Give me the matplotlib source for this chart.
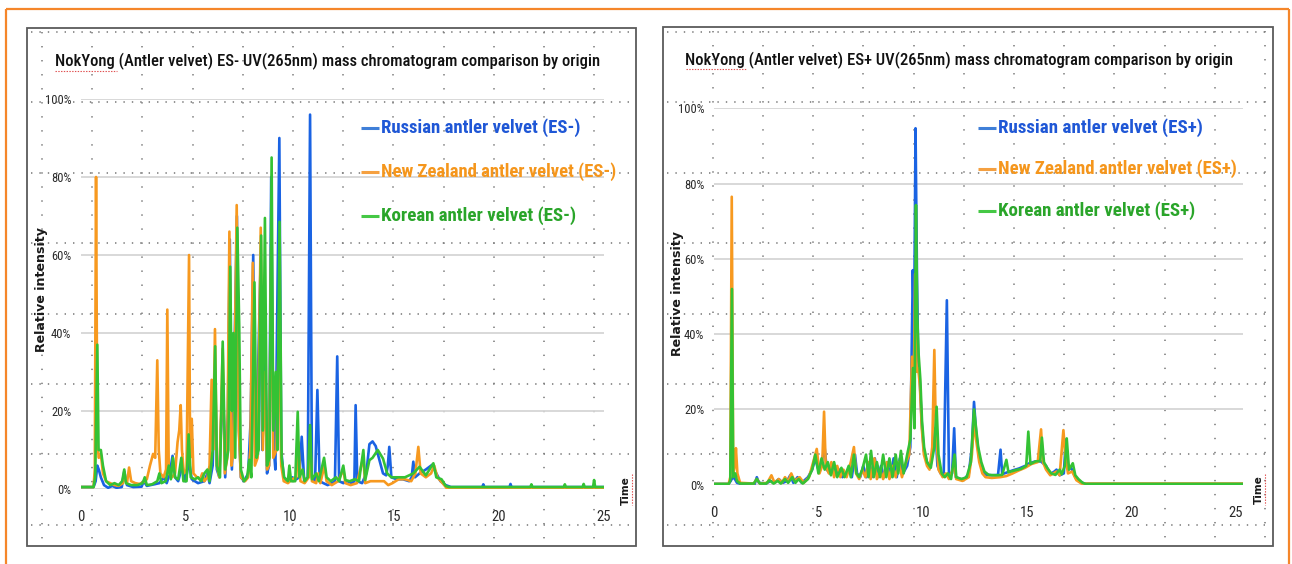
import matplotlib
matplotlib.use("Agg")
import matplotlib.pyplot as plt
from matplotlib import font_manager
from matplotlib.patches import Rectangle

plt.rcParams['lines.scale_dashes'] = False

# ---------------- data ----------------
time_ticks = [0, 5, 10, 15, 20, 25]
intensity_ticks = [0, 20, 40, 60, 80, 100]
intensity_labels = ['0%', '20%', '40%', '60%', '80%', '100%']

title_neg = 'NokYong (Antler velvet) ES- UV(265nm) mass chromatogram comparison by origin'
title_pos = 'NokYong (Antler velvet) ES+ UV(265nm) mass chromatogram comparison by origin'
names_neg = ['Russian antler velvet (ES-)', 'New Zealand antler velvet (ES-)', 'Korean antler velvet (ES-)']
names_pos = ['Russian antler velvet (ES+)', 'New Zealand antler velvet (ES+)', 'Korean antler velvet (ES+)']
y_label = 'Relative intensity'
x_label = 'Time'

# ES- chromatograms: (time, relative intensity %)
neg_russian = [(0,0.5),(0.6,0.5),(0.7,2),(0.78,6),(0.85,5),(0.95,3),(1.1,1),(1.3,0.3),(1.5,0.8),(1.7,0.3),
    (1.95,0.5),(2.07,4.5),(2.2,1),(2.5,0.5),(2.9,0.6),(3.0,2),(3.15,0.8),(3.5,1.2),(3.75,1.5),(3.95,3),
    (4.1,1.5),(4.25,4),(4.38,8.5),(4.5,3),(4.65,2),(4.85,6),(5.0,2),(5.17,7),(5.3,2.5),(5.6,1.5),(5.9,2),
    (6.05,4),(6.15,1.5),(6.3,6),(6.42,30),(6.5,5),(6.62,3),(6.78,30),(6.9,3),(7.03,20),(7.12,64),(7.22,5),
    (7.33,30),(7.46,70),(7.56,15),(7.65,3),(7.8,2),(8.0,4),(8.12,18),(8.24,60),(8.34,8),(8.45,25),(8.58,55),
    (8.68,10),(8.8,40),(8.9,4),(9.0,6),(9.1,80),(9.2,12),(9.3,5),(9.38,41),(9.49,90),(9.58,10),(9.7,3),
    (9.9,2),(10.1,3),(10.3,2.5),(10.45,3),(10.56,13.4),(10.68,2),(10.85,3),(10.96,96),(11.05,3),(11.2,2),
    (11.31,25.4),(11.42,2),(11.6,1.5),(11.8,1),(12.0,1.5),(12.15,2),(12.26,34),(12.35,2),(12.55,1.5),
    (12.75,2),(12.95,1.5),(13.08,2),(13.14,21.5),(13.22,2),(13.45,1.5),(13.65,4),(13.8,11.5),(13.95,12.2),
    (14.1,11),(14.3,7),(14.45,4),(14.6,3.5),(14.68,6),(14.75,10.8),(14.85,3),(15.1,2.5),(15.4,2.5),
    (15.7,2),(15.82,3),(15.9,7),(15.98,3),(16.2,4),(16.5,5),(16.8,6.2),(17.0,4),(17.2,2),(17.45,1),
    (17.7,0.5),(19.2,0.5),(19.25,1.2),(19.3,0.5),(20.5,0.5),(20.55,1.3),(20.6,0.5),(25,0.5)]

neg_newzealand = [(0,0.5),(0.6,0.5),(0.66,5),(0.72,80),(0.78,12),(0.85,8),(0.95,9),(1.05,4),(1.2,2),
    (1.4,1.5),(1.6,1),(1.8,0.8),(2.0,1.5),(2.1,3),(2.2,1.5),(2.3,5.5),(2.4,2),(2.6,1.5),(2.8,1.3),(3.0,1.8),
    (3.15,2.5),(3.3,6),(3.45,9),(3.55,8),(3.65,33),(3.72,10),(3.8,4),(3.95,3),(4.07,5),(4.13,46),(4.2,4),
    (4.35,3),(4.5,4),(4.62,12),(4.7,15),(4.77,21.5),(4.83,10),(4.92,4),(5.05,5),(5.17,60),(5.22,8),(5.3,18),
    (5.38,4),(5.55,3),(5.7,2.5),(5.8,4),(5.9,2),(6.05,3),(6.15,6),(6.25,28),(6.32,10),(6.41,41),(6.5,6),
    (6.62,3),(6.78,36),(6.88,4),(7.0,8),(7.1,66),(7.2,6),(7.3,10),(7.45,72.8),(7.55,15),(7.65,3),(7.85,2),
    (8.0,3),(8.1,10),(8.22,58),(8.32,6),(8.45,8),(8.6,67),(8.7,10),(8.8,30),(8.9,5),(9.0,6),(9.1,62),
    (9.2,8),(9.35,10),(9.48,45),(9.58,6),(9.7,2),(9.9,1.5),(10.1,2.5),(10.3,3),(10.4,12),(10.5,2),
    (10.7,1.5),(10.9,3),(10.98,10),(11.05,2),(11.25,1.5),(11.35,4),(11.45,1.5),(11.65,6),(11.75,2),
    (12.0,1),(12.3,2),(12.55,5),(12.65,1.5),(12.9,1),(13.2,1.5),(13.5,8),(13.6,1.5),(13.85,2),(14.2,2),
    (14.5,2),(14.7,1),(14.9,1.5),(15.2,2.5),(15.5,2.5),(15.8,2),(16.0,4),(16.14,10.8),(16.25,4),(16.5,3),
    (16.75,4),(16.9,6),(17.05,3),(17.3,1.5),(17.5,0.2),(25,0.2)]

neg_korean = [(0,0.5),(0.6,0.5),(0.68,3),(0.78,37),(0.84,10),(0.95,10),(1.05,6),(1.2,2),(1.4,1),(1.6,1.5),
    (1.8,1),(1.97,2),(2.07,5),(2.15,1.5),(2.4,1),(2.7,1),(2.95,1.5),(3.05,3),(3.15,1),(3.4,1.2),(3.65,2),
    (3.75,4),(3.85,1.5),(4.05,2),(4.2,6),(4.3,2.5),(4.4,8),(4.5,3),(4.65,2.5),(4.8,8),(4.9,2),(5.05,2),
    (5.15,14),(5.25,3),(5.45,2.5),(5.6,3),(5.75,2),(5.9,4),(6.05,5),(6.15,2),(6.3,10),(6.42,36.6),(6.5,6),
    (6.65,3),(6.78,37.8),(6.9,5),(7.05,10),(7.14,57),(7.22,20),(7.3,40),(7.38,8),(7.48,67),(7.57,42),
    (7.65,5),(7.8,2),(7.95,3),(8.05,7.5),(8.15,3),(8.3,53),(8.4,8),(8.5,10),(8.62,65),(8.7,15),(8.8,69.5),
    (8.9,6),(9.02,8),(9.12,85),(9.2,15),(9.32,30),(9.4,10),(9.5,68.5),(9.6,8),(9.72,3),(9.9,2),(9.97,6),
    (10.05,2),(10.25,2),(10.37,19.8),(10.45,3),(10.6,5),(10.7,2),(10.85,3),(10.96,16.4),(11.05,2.5),
    (11.25,4),(11.38,2),(11.63,8),(11.75,3),(11.95,2),(12.2,3),(12.35,2),(12.55,6),(12.65,2.3),(12.85,2),
    (13.1,2.5),(13.3,2),(13.51,10),(13.6,2.3),(13.8,7.4),(13.95,8),(14.2,10),(14.45,7.8),(14.65,4),
    (14.85,3),(15.2,3),(15.5,3),(15.9,4),(16.2,5.7),(16.5,3.5),(16.86,6.6),(17.0,3),(17.25,2.5),
    (17.45,0.8),(17.6,0.5),(21.5,0.5),(21.55,1.2),(21.6,0.5),(23.1,0.5),(23.15,1.2),(23.2,0.5),(24.0,0.5),
    (24.05,1.3),(24.1,0.5),(24.5,0.5),(24.55,2.3),(24.6,0.5),(25,0.5)]

# ES+ chromatograms: (time, relative intensity %)
pos_russian = [(0,0.2),(0.7,0.2),(0.8,1),(0.9,2),(1.0,1.5),(1.1,0.5),(1.3,0.2),(1.95,0.2),(2.05,2),
    (2.15,0.5),(2.5,0.3),(2.7,1),(2.9,0.5),(3.1,1.5),(3.3,0.5),(3.5,1),(3.65,2.5),(3.8,0.5),(4.0,2),
    (4.2,0.5),(4.5,2),(4.7,4),(4.85,7),(5.0,4),(5.15,6),(5.3,9.7),(5.4,4),(5.55,3),(5.7,5),(5.85,2.5),
    (6.0,4),(6.15,2),(6.35,3),(6.5,5),(6.6,2),(6.75,8),(6.85,3),(7.0,2),(7.15,5),(7.3,2),(7.45,6),
    (7.55,2),(7.7,7),(7.85,2),(8.0,5),(8.15,2),(8.3,6),(8.45,2),(8.6,7),(8.75,2),(8.9,7),(9.05,3),
    (9.25,5),(9.4,10),(9.52,57),(9.58,40),(9.65,94.7),(9.72,55),(9.78,33),(9.86,27),(9.95,16),(10.05,9),
    (10.2,6),(10.35,4.5),(10.5,10),(10.6,15),(10.7,5),(10.85,3),(11.0,3),(11.15,49),(11.25,3),(11.4,3),
    (11.5,15),(11.58,2),(11.8,1.5),(12.0,1.5),(12.2,3),(12.35,10),(12.45,22),(12.55,14),(12.7,7),
    (12.85,4),(13.0,2.7),(13.3,2.5),(13.6,2.6),(13.72,9.3),(13.8,2.8),(14.0,3.2),(14.3,3.8),(14.6,4.3),
    (14.9,5),(15.1,5.7),(15.4,6.2),(15.65,6.2),(15.9,5),(16.1,2.8),(16.3,3.5),(16.4,4),(16.55,2.5),
    (16.75,3),(16.85,12),(16.95,4),(17.1,4.5),(17.3,2),(17.5,0.8),(17.8,0.2),(25.33,0.2)]

pos_newzealand = [(0,0.2),(0.7,0.2),(0.78,2),(0.85,76.5),(0.92,3),(1.0,5),(1.05,9.7),(1.12,3),(1.25,0.5),
    (1.9,0.3),(2.05,1.5),(2.2,0.3),(2.55,0.5),(2.75,2.5),(2.9,0.5),(3.1,1.5),(3.25,0.5),(3.4,2),(3.55,0.8),
    (3.7,3),(3.85,1),(4.1,2),(4.3,0.5),(4.55,2),(4.75,6),(4.92,9.5),(5.05,3),(5.18,5),(5.27,19.4),
    (5.35,5),(5.5,3),(5.62,6),(5.75,2),(5.9,5),(6.05,2),(6.2,4),(6.35,2),(6.55,6),(6.7,10),(6.8,3),
    (6.95,1.5),(7.1,4),(7.25,2),(7.4,6),(7.5,1.5),(7.68,7),(7.8,1.5),(7.95,4),(8.1,1.5),(8.27,6),(8.4,1.5),
    (8.55,5),(8.7,2),(8.85,6),(9.0,2),(9.2,6),(9.35,8),(9.48,34),(9.55,20),(9.63,56),(9.7,30),(9.78,31),
    (9.86,26),(9.95,15),(10.05,8),(10.2,5),(10.32,4),(10.45,10),(10.55,35.8),(10.62,15),(10.75,4),(10.95,2),(11.1,3),
    (11.25,1.5),(11.5,5),(11.6,1.5),(11.9,1),(12.2,2),(12.35,8),(12.45,17),(12.55,12),(12.7,6),(12.85,3),
    (13.0,2),(13.3,1.8),(13.7,2),(14.0,2.3),(14.3,3),(14.6,3.8),(14.9,4.5),(15.2,5.5),(15.5,6),
    (15.66,14.7),(15.75,6),(15.9,4),(16.1,2.5),(16.4,3.5),(16.55,2.5),(16.73,14.5),(16.82,8),(16.95,3),
    (17.15,3.5),(17.35,1.2),(17.6,0.3),(25.33,0.3)]

pos_korean = [(0,0.2),(0.7,0.2),(0.78,1),(0.86,52),(0.92,2),(1.02,3),(1.1,1),(1.25,0.3),(1.9,0.3),
    (2.05,1.5),(2.2,0.3),(2.5,0.3),(2.65,1.2),(2.85,0.3),(3.05,1),(3.2,0.3),(3.4,1.5),(3.55,0.5),(3.75,2),
    (3.9,0.5),(4.05,1.5),(4.25,0.3),(4.5,1.5),(4.7,4),(4.85,8),(5.0,3),(5.15,7),(5.3,4),(5.45,6),(5.6,2.5),
    (5.75,6),(5.9,2),(6.1,4.5),(6.25,2),(6.45,5),(6.55,2),(6.7,8),(6.82,3),(6.95,2),(7.1,4),(7.28,8),
    (7.4,2),(7.52,9),(7.65,2),(7.8,6),(7.95,2),(8.1,8),(8.25,2),(8.4,7),(8.55,2),(8.7,8),(8.82,3),(8.95,9),
    (9.08,3),(9.25,8),(9.4,12),(9.53,31),(9.6,15),(9.67,74.3),(9.73,45),(9.8,34.5),(9.88,28),(9.96,17),
    (10.06,10),(10.2,6),(10.38,4.5),(10.55,10),(10.66,20.7),(10.75,8),(10.9,3),(11.05,2),(11.2,3),
    (11.35,1.5),(11.52,8),(11.6,2),(11.85,1.5),(12.1,2),(12.3,6),(12.45,20),(12.55,15),(12.65,10),
    (12.8,6),(12.95,3.5),(13.15,2.6),(13.5,2.5),(13.8,2.6),(14.0,6.6),(14.1,3.3),(14.4,3.8),(14.7,4.2),
    (14.95,5),(15.05,14.1),(15.15,5.5),(15.4,6.2),(15.62,6.3),(15.7,12.5),(15.8,6),(15.95,4.5),
    (16.15,3),(16.35,2.6),(16.55,4),(16.65,2.8),(16.8,5),(16.89,12.3),(17.0,4),(17.18,5.7),(17.3,2.5),
    (17.45,1.5),(17.65,0.5),(17.8,0.2),(25.33,0.2)]

# ---------------- styling ----------------
line_colors = ['#1a63e3', '#f7991f', '#34c234']
text_colors = ['#1f57d6', '#f5961c', '#2aa52a']
dash_colors = ['#3f7fd8', '#f5a040', '#45c845']

W, H = 1292, 564
fig = plt.figure(figsize=(W / 100, H / 100), dpi=100)
fig.patch.set_facecolor('white')

avail = {f.name for f in font_manager.fontManager.ttflist}
NARROW = next((n for n in ['Liberation Sans Narrow', 'Roboto Condensed', 'Open Sans Condensed',
                           'Arial Narrow'] if n in avail), 'Liberation Sans')
BOLDW = 'DejaVu Sans'

# background layer in pixel coordinates
bg = fig.add_axes([0, 0, 1, 1])
bg.set_xlim(0, W); bg.set_ylim(H, 0); bg.axis('off'); bg.set_zorder(0)
# foreground text layer
fg = fig.add_axes([0, 0, 1, 1])
fg.set_xlim(0, W); fg.set_ylim(H, 0); fg.axis('off'); fg.set_zorder(5)

# orange slide frame
ORANGE = '#f5862a'
bg.plot([6, 6], [9, H], color=ORANGE, lw=1.6, solid_capstyle='butt')
bg.plot([6, 1289], [9, 9], color=ORANGE, lw=1.6, solid_capstyle='butt')
bg.plot([1289, 1289], [9, H], color=ORANGE, lw=1.6, solid_capstyle='butt')

panels = [
    dict(box=(27, 28, 636, 546), cols=[42 + 50.2 * k for k in range(12)]),
    dict(box=(663, 27, 1273, 546), cols=[712.8 + 50.2 * k for k in range(12)]),
]
rows = [32, 102, 173, 243, 314, 384, 454, 525]
for p in panels:
    x0, y0, x1, y1 = p['box']
    bg.add_patch(Rectangle((x0, y0), x1 - x0, y1 - y0, facecolor='white',
                           edgecolor='#5a5a5a', lw=1.3, zorder=1))
    for y in rows:
        bg.plot([x0 + 4, x1 - 3], [y, y], color='#808080', lw=1.2,
                linestyle=(0, (1.0, 5.05)), zorder=2)
    for x in p['cols']:
        bg.plot([x, x], [y0 + 4, y1 - 2], color='#808080', lw=1.2,
                linestyle=(0, (1.0, 9.1)), zorder=2)

R = fig.canvas.get_renderer()


def fit_w(t, w):
    bb = t.get_window_extent(R)
    t.set_fontsize(t.get_fontsize() * w / bb.width)


def fit_h(t, h):
    bb = t.get_window_extent(R)
    t.set_fontsize(t.get_fontsize() * h / bb.height)


def make_axes(rect_px, xmax, data, names, title, title_px, legend_px, ylab_px, time_px, tick_pad_y):
    l, b, r, t = rect_px
    ax = fig.add_axes([l / W, 1 - b / H, (r - l) / W, (b - t) / H])
    ax.set_zorder(3)
    ax.patch.set_alpha(0)
    ax.set_xlim(0, xmax)
    ax.set_ylim(0, 100)
    for s in ax.spines.values():
        s.set_visible(False)
    for yv in intensity_ticks:
        ax.axhline(yv, color='#d6d6d6', lw=1.3, zorder=0)
    ax.set_xticks(time_ticks)
    ax.set_xticklabels([str(v) for v in time_ticks])
    ax.set_yticks(intensity_ticks)
    ax.set_yticklabels(intensity_labels)
    ax.tick_params(axis='x', length=0, pad=15, labelsize=10.5, labelcolor='#2a2a2a')
    ax.tick_params(axis='y', length=0, pad=tick_pad_y, labelsize=9, labelcolor='#2a2a2a')
    for lab in ax.get_xticklabels() + ax.get_yticklabels():
        lab.set_fontfamily(NARROW)
    for series, col in zip(data, line_colors):
        xs = [p[0] for p in series]
        ys = [p[1] for p in series]
        ax.plot(xs, ys, color=col, lw=1.9, solid_joinstyle='round')
    # title
    tx, ty, tw = title_px
    tt = fg.text(tx, ty, title, fontfamily=NARROW, fontweight='medium', fontsize=12, color='#111111',
                 ha='left', va='center')
    fit_w(tt, tw)
    # legend
    lx, ly_list, widths = legend_px
    for name, ly, wd, tc, dc in zip(names, ly_list, widths, text_colors, dash_colors):
        fg.plot([lx, lx + 18], [ly, ly], color=dc, lw=2.2, solid_capstyle='butt')
        lt = fg.text(lx + 20, ly, name, fontfamily=NARROW, fontweight='bold', fontsize=15,
                     color=tc, ha='left', va='center')
        fit_w(lt, wd - 20)
    # axis labels
    yx, yy, yh = ylab_px
    yl = fg.text(yx, yy, y_label, rotation=90, fontfamily=BOLDW, fontweight='bold',
                 fontsize=8, color='#1a1a1a', ha='center', va='center')
    fit_h(yl, yh)
    tx2, ty2, th2 = time_px
    tl = fg.text(tx2, ty2, x_label, rotation=90, fontfamily=BOLDW, fontweight='bold',
                 fontsize=8, color='#1a1a1a', ha='center', va='center')
    fit_h(tl, th2)
    return ax


ax1 = make_axes((81, 489, 603.5, 99), 25, [neg_russian, neg_newzealand, neg_korean], names_neg,
                title_neg, (55, 61, 544), (361, [128, 172, 216], [220, 255, 214]),
                (41, 290, 125), (626, 491, 29), 7)
ax2 = make_axes((714, 484.7, 1243, 108.3), 25.33, [pos_russian, pos_newzealand, pos_korean], names_pos,
                title_pos, (685, 60, 546), (978, [128, 169, 211], [224, 259, 217]),
                (677, 293, 125), (1259, 490, 29), 7)

# spell-check squiggles
fg.plot([55, 117], [71, 71], color='#e05050', lw=0.8, linestyle=(0, (1, 1)))
fg.plot([686, 746], [69, 69], color='#e05050', lw=0.8, linestyle=(0, (1, 1)))
fg.plot([632, 632], [474, 505], color='#e05050', lw=0.8, linestyle=(0, (1, 1)))
fg.plot([1265, 1265], [474, 505], color='#e05050', lw=0.8, linestyle=(0, (1, 1)))

fig.savefig('out.png', dpi=100, facecolor='white')
